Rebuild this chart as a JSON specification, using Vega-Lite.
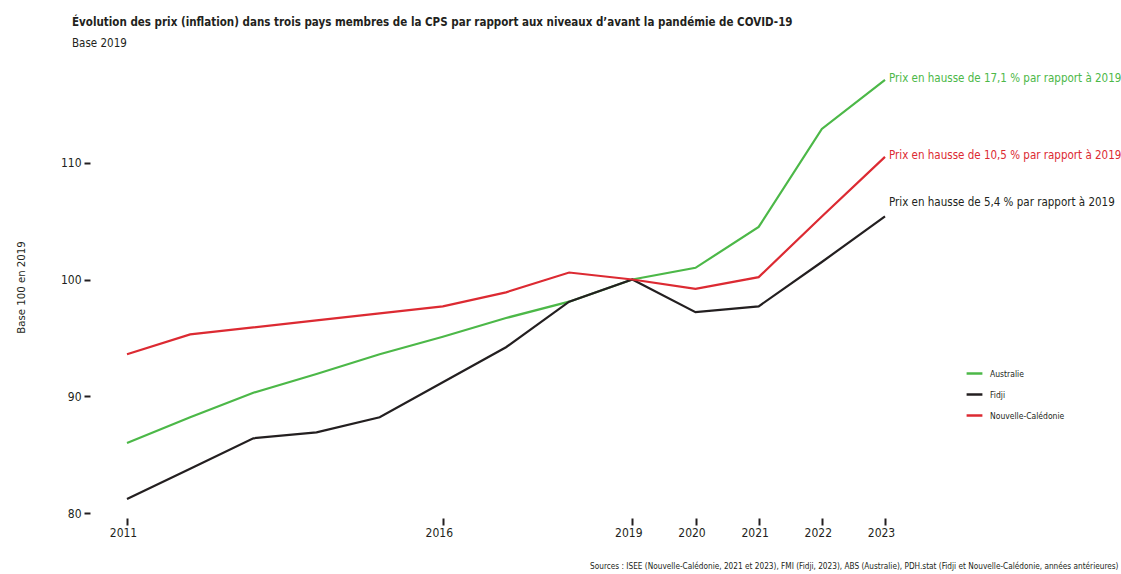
{
  "$schema": "https://vega.github.io/schema/vega-lite/v6.json",
  "autosize": {"type": "none"},
  "width": 758,
  "height": 467,
  "padding": {"left": 127, "top": 46, "right": 236, "bottom": 61},
  "background": "white",
  "config": {
    "font": "DejaVu Sans Condensed, sans-serif",
    "view": {"stroke": null}
  },
  "title": {
    "text": "Évolution des prix (inflation) dans trois pays membres de la CPS par rapport aux niveaux d’avant la pandémie de COVID-19",
    "subtitle": "Base 2019",
    "anchor": "start",
    "frame": "group",
    "dx": -55,
    "offset": -3,
    "fontSize": 11.5,
    "fontWeight": "bold",
    "color": "#231f20",
    "subtitleFontSize": 11.5,
    "subtitleColor": "#231f20",
    "subtitlePadding": 9
  },
  "data": {
    "values": [
      {"year": 2011, "pays": "Australie", "value": 86.0},
      {"year": 2012, "pays": "Australie", "value": 88.2},
      {"year": 2013, "pays": "Australie", "value": 90.3},
      {"year": 2014, "pays": "Australie", "value": 91.9},
      {"year": 2015, "pays": "Australie", "value": 93.6},
      {"year": 2016, "pays": "Australie", "value": 95.1},
      {"year": 2017, "pays": "Australie", "value": 96.7},
      {"year": 2018, "pays": "Australie", "value": 98.1},
      {"year": 2019, "pays": "Australie", "value": 100.0},
      {"year": 2020, "pays": "Australie", "value": 101.0},
      {"year": 2021, "pays": "Australie", "value": 104.5},
      {"year": 2022, "pays": "Australie", "value": 112.9},
      {"year": 2023, "pays": "Australie", "value": 117.1},
      {"year": 2011, "pays": "Fidji", "value": 81.2},
      {"year": 2012, "pays": "Fidji", "value": 83.8},
      {"year": 2013, "pays": "Fidji", "value": 86.4},
      {"year": 2014, "pays": "Fidji", "value": 86.9},
      {"year": 2015, "pays": "Fidji", "value": 88.2},
      {"year": 2016, "pays": "Fidji", "value": 91.2},
      {"year": 2017, "pays": "Fidji", "value": 94.2},
      {"year": 2018, "pays": "Fidji", "value": 98.1},
      {"year": 2019, "pays": "Fidji", "value": 100.0},
      {"year": 2020, "pays": "Fidji", "value": 97.2},
      {"year": 2021, "pays": "Fidji", "value": 97.7},
      {"year": 2022, "pays": "Fidji", "value": 101.5},
      {"year": 2023, "pays": "Fidji", "value": 105.4},
      {"year": 2011, "pays": "Nouvelle-Calédonie", "value": 93.6},
      {"year": 2012, "pays": "Nouvelle-Calédonie", "value": 95.3},
      {"year": 2013, "pays": "Nouvelle-Calédonie", "value": 95.9},
      {"year": 2014, "pays": "Nouvelle-Calédonie", "value": 96.5},
      {"year": 2015, "pays": "Nouvelle-Calédonie", "value": 97.1},
      {"year": 2016, "pays": "Nouvelle-Calédonie", "value": 97.7},
      {"year": 2017, "pays": "Nouvelle-Calédonie", "value": 98.9},
      {"year": 2018, "pays": "Nouvelle-Calédonie", "value": 100.6},
      {"year": 2019, "pays": "Nouvelle-Calédonie", "value": 100.0},
      {"year": 2020, "pays": "Nouvelle-Calédonie", "value": 99.2},
      {"year": 2021, "pays": "Nouvelle-Calédonie", "value": 100.2},
      {"year": 2022, "pays": "Nouvelle-Calédonie", "value": 105.4},
      {"year": 2023, "pays": "Nouvelle-Calédonie", "value": 110.5}
    ]
  },
  "encoding": {
    "x": {
      "field": "year",
      "type": "quantitative",
      "scale": {"domain": [2011, 2023], "nice": false, "zero": false},
      "axis": {
        "values": [2011, 2016, 2019, 2020, 2021, 2022, 2023],
        "format": "d",
        "domain": false,
        "grid": false,
        "offset": 5,
        "tickSize": 7,
        "tickWidth": 2,
        "tickColor": "#231f20",
        "labelFontSize": 12,
        "labelColor": "#231f20",
        "labelPadding": 2,
        "labelOffset": -4,
        "labelFlush": false,
        "title": "Sources : ISEE (Nouvelle-Calédonie, 2021 et 2023), FMI (Fidji, 2023), ABS (Australie), PDH.stat (Fidji et Nouvelle-Calédonie, années antérieures)",
        "titleFontSize": 8.2,
        "titleFontWeight": "normal",
        "titleColor": "#231f20",
        "titleAnchor": "start",
        "titleAlign": "right",
        "titleX": 991,
        "titleY": 44
      }
    },
    "y": {
      "field": "value",
      "type": "quantitative",
      "scale": {"domain": [80, 120], "nice": false, "zero": false},
      "axis": {
        "values": [80, 90, 100, 110],
        "domain": false,
        "grid": false,
        "offset": 37,
        "tickSize": 6,
        "tickWidth": 2,
        "tickColor": "#231f20",
        "labelFontSize": 12,
        "labelColor": "#231f20",
        "labelPadding": 3,
        "title": "Base 100 en 2019",
        "titleFontSize": 11.3,
        "titleFontWeight": "normal",
        "titleColor": "#231f20",
        "titlePadding": 34,
        "titleY": 241
      }
    },
    "color": {
      "field": "pays",
      "type": "nominal",
      "scale": {
        "domain": ["Australie", "Fidji", "Nouvelle-Calédonie"],
        "range": ["#4cb848", "#231f20", "#dc2a32"]
      },
      "legend": {
        "title": null,
        "orient": "none",
        "legendX": 838,
        "legendY": 318,
        "symbolType": "stroke",
        "symbolStrokeWidth": 2.5,
        "symbolSize": 250,
        "labelFontSize": 8.5,
        "labelColor": "#231f20",
        "rowPadding": 6,
        "labelOffset": 6
      }
    }
  },
  "layer": [
    {
      "mark": {"type": "line", "strokeWidth": 2.2}
    },
    {
      "transform": [{"filter": "datum.year == 2023 && datum.pays == 'Australie'"}],
      "mark": {"type": "text", "align": "left", "baseline": "middle", "dx": 4, "dy": -1, "fontSize": 11.5, "text": "Prix en hausse de 17,1 % par rapport à 2019"}
    },
    {
      "transform": [{"filter": "datum.year == 2023 && datum.pays == 'Nouvelle-Calédonie'"}],
      "mark": {"type": "text", "align": "left", "baseline": "middle", "dx": 4, "dy": -1, "fontSize": 11.5, "text": "Prix en hausse de 10,5 % par rapport à 2019"}
    },
    {
      "transform": [{"filter": "datum.year == 2023 && datum.pays == 'Fidji'"}],
      "mark": {"type": "text", "align": "left", "baseline": "middle", "dx": 4, "dy": -13, "fontSize": 11.5, "text": "Prix en hausse de 5,4 % par rapport à 2019"}
    }
  ]
}
